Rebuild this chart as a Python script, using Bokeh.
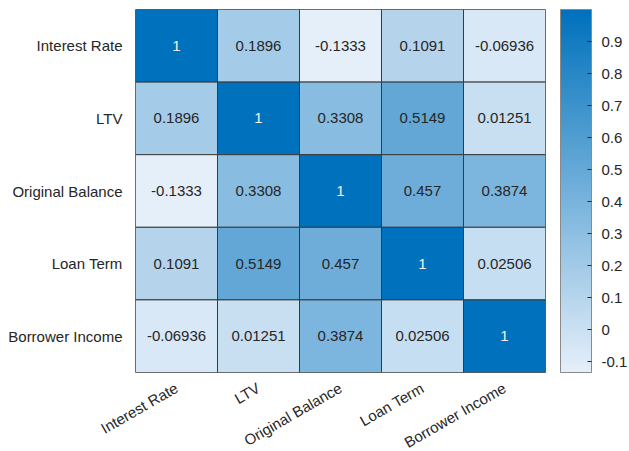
import math
from bokeh.plotting import figure
from bokeh.models import (ColumnDataSource, LinearColorMapper, ColorBar, FixedTicker,
                          CustomJSTickFormatter)
from bokeh.embed import file_html
from bokeh.resources import INLINE
from bokeh.core.properties import value

names = ["Interest Rate", "LTV", "Original Balance", "Loan Term", "Borrower Income"]
corr = [
    [1, 0.1896, -0.1333, 0.1091, -0.06936],
    [0.1896, 1, 0.3308, 0.5149, 0.01251],
    [-0.1333, 0.3308, 1, 0.457, 0.3874],
    [0.1091, 0.5149, 0.457, 1, 0.02506],
    [-0.06936, 0.01251, 0.3874, 0.02506, 1],
]
cbar_ticks = [-0.1, 0, 0.1, 0.2, 0.3, 0.4, 0.5, 0.6, 0.7, 0.8, 0.9]

low_rgb = (229, 239, 249)
high_rgb = (0, 113, 188)
palette = []
n = 256
for i in range(n):
    t = i / (n - 1)
    r = round(low_rgb[0] + (high_rgb[0] - low_rgb[0]) * t)
    g = round(low_rgb[1] + (high_rgb[1] - low_rgb[1]) * t)
    b = round(low_rgb[2] + (high_rgb[2] - low_rgb[2]) * t)
    palette.append("#%02x%02x%02x" % (r, g, b))

vmin = min(min(r) for r in corr)
vmax = max(max(r) for r in corr)
mapper = LinearColorMapper(palette=palette, low=vmin, high=vmax)

xs, ys, vals, txt, tcol = [], [], [], [], []
for i, rn in enumerate(names):
    for j, cn in enumerate(names):
        v = corr[i][j]
        xs.append(cn)
        ys.append(rn)
        vals.append(v)
        txt.append("%.4g" % v)
        tcol.append("#f2f2f2" if v > 0.8 else "#262626")
src = ColumnDataSource(dict(x=xs, y=ys, v=vals, t=txt, c=tcol))

p = figure(x_range=names, y_range=list(reversed(names)),
           frame_width=410, frame_height=363,
           output_backend="svg", toolbar_location=None,
           min_border_left=135, min_border_top=9, min_border_right=0,
           min_border_bottom=0)

p.rect(x="x", y="y", width=1, height=1, source=src,
       fill_color={"field": "v", "transform": mapper},
       line_color="#3a3a3a", line_width=1)
p.text(x="x", y="y", text="t", source=src, text_color="c",
       text_font=value("Liberation Sans"), text_font_size="15px",
       text_align="center", text_baseline="middle")

p.grid.visible = False
p.outline_line_color = "#8a8a8a"
p.outline_line_width = 1
for ax in (p.xaxis, p.yaxis):
    ax.axis_line_color = None
    ax.major_tick_line_color = None
    ax.minor_tick_line_color = None
    ax.major_label_text_font = "Liberation Sans"
    ax.major_label_text_font_size = "15px"
    ax.major_label_text_color = "#262626"
p.xaxis.major_label_orientation = math.pi / 6
p.xaxis.major_label_standoff = 8
p.yaxis.major_label_standoff = 7

cb = ColorBar(color_mapper=mapper, ticker=FixedTicker(ticks=cbar_ticks),
              formatter=CustomJSTickFormatter(code="return String(Math.round(tick*10)/10);"),
              width=31, height=363, padding=0, margin=0,
              location=(15, 0),
              bar_line_color="#8a8a8a", bar_line_width=1,
              major_tick_line_color="#262626", major_tick_in=4, major_tick_out=0,
              minor_tick_line_color=None,
              major_label_text_font="Liberation Sans",
              major_label_text_font_size="15px",
              major_label_text_color="#262626",
              label_standoff=10,
              border_line_color=None, background_fill_alpha=0)
p.add_layout(cb, "right")
p.background_fill_color = "white"
p.border_fill_color = "white"

open("out.html", "w").write(file_html(p, INLINE))
